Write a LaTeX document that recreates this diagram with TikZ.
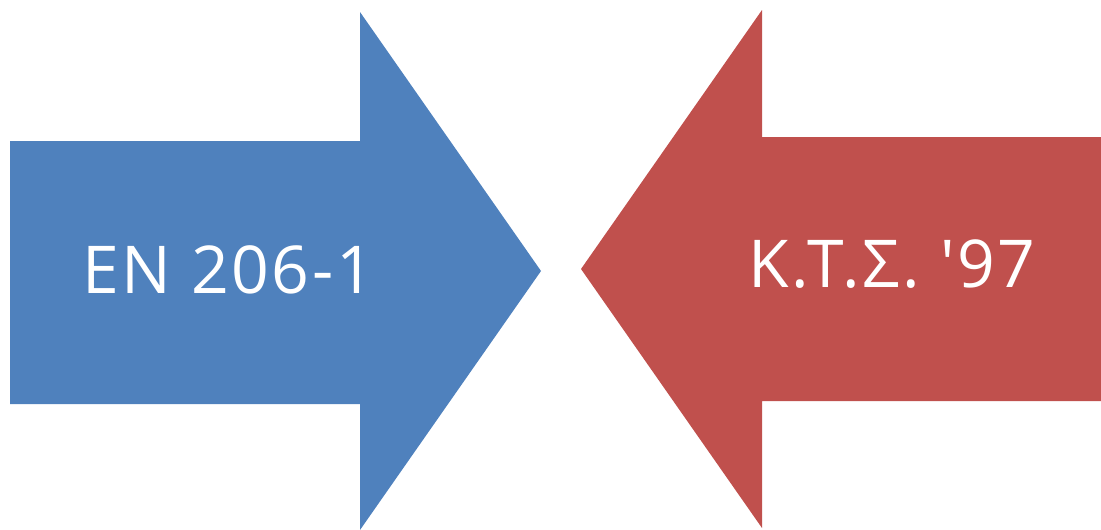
\documentclass[tikz,border=0pt]{standalone}
\usepackage{fontspec}
\setmainfont{Open Sans}[LetterSpace=4, Ligatures=TeXOff]
\definecolor{arrowblue}{HTML}{4F81BD}
\definecolor{arrowred}{HTML}{C0504D}
\begin{document}
\begin{tikzpicture}[x=1pt,y=-1pt,
  label text/.style={text=white, inner sep=0pt, anchor=base,
    font=\fontsize{66}{70}\selectfont}]
\useasboundingbox (0,0) rectangle (1101,530);
% left block arrow pointing right
\fill[arrowblue] (10,141) -- (360,141) -- (360,12) -- (541,271)
  -- (360,530) -- (360,404) -- (10,404) -- cycle;
% right block arrow pointing left
\fill[arrowred] (1101,137) -- (762,137) -- (762,10) -- (581,269)
  -- (762,528) -- (762,401) -- (1101,401) -- cycle;
\node[label text] (en) at (228,293) {EN 206-1};
\node[label text] (kts) at (892,287) {Κ.Τ.Σ. '97};
\end{tikzpicture}
\end{document}
